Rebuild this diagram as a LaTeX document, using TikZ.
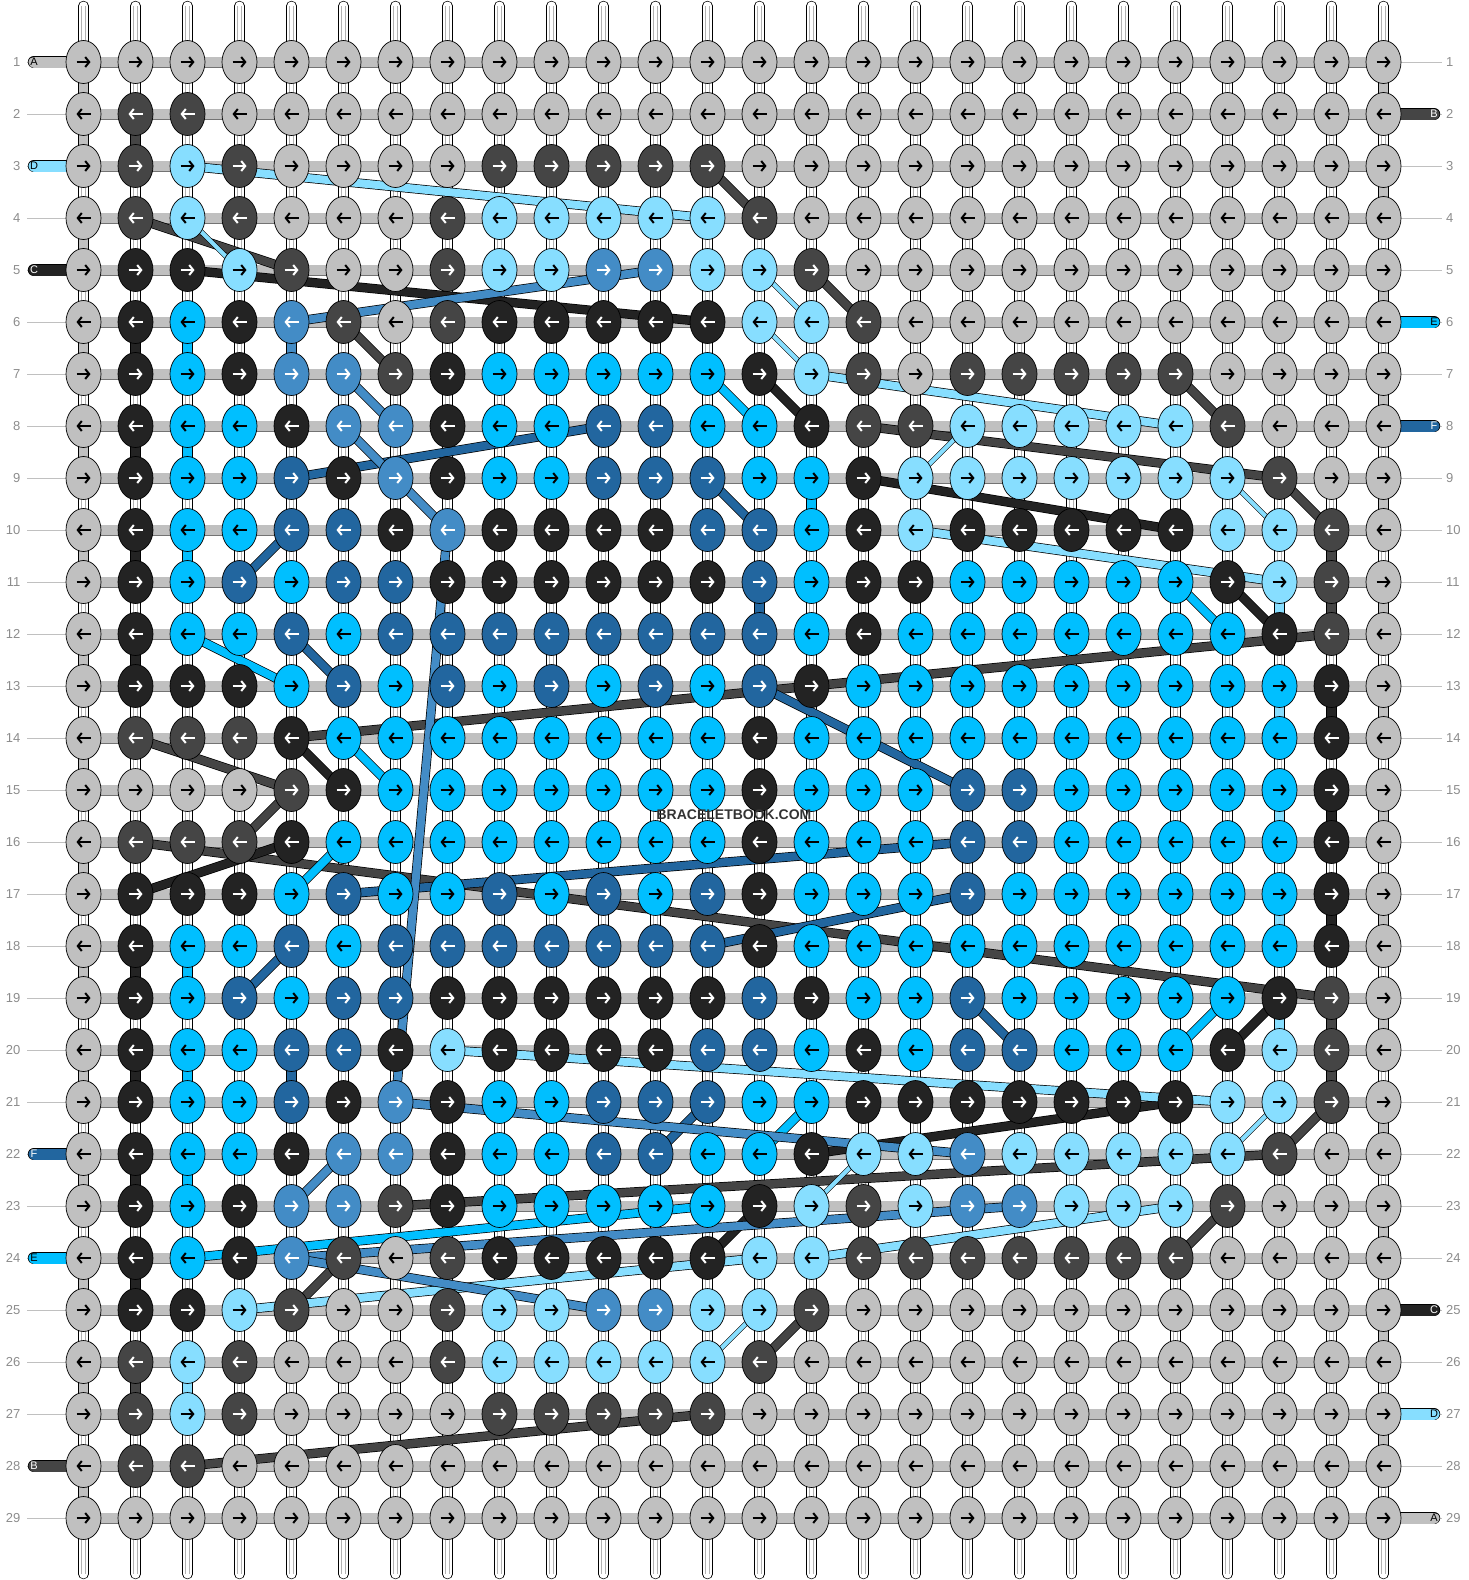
\documentclass[tikz,border=0pt]{standalone}
\usepackage{fontspec}
\setmainfont{Liberation Sans}
\usetikzlibrary{shapes.geometric,arrows.meta}
\pgfdeclarelayer{strands}
\pgfdeclarelayer{threads}
\pgfsetlayers{strands,threads,main}

% knot colours
\definecolor{ka}{HTML}{C0C0C0}
\definecolor{kb}{HTML}{454545}
\definecolor{kc}{HTML}{232323}
\definecolor{kd}{HTML}{87DEFF}
\definecolor{ke}{HTML}{00BFFF}
\definecolor{kf}{HTML}{22669F}
\definecolor{kg}{HTML}{438CC6}
% arrow colours
\colorlet{ta}{black}
\colorlet{tb}{white}
\colorlet{tc}{white}
\colorlet{td}{black}
\colorlet{te}{black}
\colorlet{tf}{white}
\colorlet{tg}{white}

\tikzset{
  knot/.style={ellipse, draw=black, line width=0.7pt, minimum width=35pt, minimum height=43pt, inner sep=0pt},
  dirarrow/.style={line width=2pt, -{Straight Barb[length=4pt,width=10pt]}},
  thread/.style={draw=black, line width=0.7pt, double=#1, double distance=8pt},
  thinthread/.style={draw=black, line width=0.6pt, double=#1, double distance=4pt},
  carry/.style={line width=9pt, draw=#1},
  hbar/.style={draw=black!55, line width=0.5pt, double=ka, double distance=10pt},
  vstrand/.style={draw=black, line width=0.7pt, double=white, double distance=9pt, line cap=round},
  tailout/.style={line width=12.4pt, draw=black, line cap=round},
  tailin/.style={line width=11pt, draw=#1, line cap=round},
  numline/.style={draw=ka, line width=0.8pt},
  rowno/.style={text=black!45, inner sep=0pt, font=\fontsize{13}{13}\selectfont},
  taglabel/.style={inner sep=0pt, font=\fontsize{11}{11}\selectfont}
}

\begin{document}
\begin{tikzpicture}[x=1pt,y=-1pt]
\useasboundingbox (0,0) rectangle (1468,1580);

% knots, row by row
\foreach \row [count=\ri] in {
  {a,a,a,a,a,a,a,a,a,a,a,a,a,a,a,a,a,a,a,a,a,a,a,a,a,a},
  {a,b,b,a,a,a,a,a,a,a,a,a,a,a,a,a,a,a,a,a,a,a,a,a,a,a},
  {a,b,d,b,a,a,a,a,b,b,b,b,b,a,a,a,a,a,a,a,a,a,a,a,a,a},
  {a,b,d,b,a,a,a,b,d,d,d,d,d,b,a,a,a,a,a,a,a,a,a,a,a,a},
  {a,c,c,d,b,a,a,b,d,d,g,g,d,d,b,a,a,a,a,a,a,a,a,a,a,a},
  {a,c,e,c,g,b,a,b,c,c,c,c,c,d,d,b,a,a,a,a,a,a,a,a,a,a},
  {a,c,e,c,g,g,b,c,e,e,e,e,e,c,d,b,a,b,b,b,b,b,a,a,a,a},
  {a,c,e,e,c,g,g,c,e,e,f,f,e,e,c,b,b,d,d,d,d,d,b,a,a,a},
  {a,c,e,e,f,c,g,c,e,e,f,f,f,e,e,c,d,d,d,d,d,d,d,b,a,a},
  {a,c,e,e,f,f,c,g,c,c,c,c,f,f,e,c,d,c,c,c,c,c,d,d,b,a},
  {a,c,e,f,e,f,f,c,c,c,c,c,c,f,e,c,c,e,e,e,e,e,c,d,b,a},
  {a,c,e,e,f,e,f,f,f,f,f,f,f,f,e,c,e,e,e,e,e,e,e,c,b,a},
  {a,c,c,c,e,f,e,f,e,f,e,f,e,f,c,e,e,e,e,e,e,e,e,e,c,a},
  {a,b,b,b,c,e,e,e,e,e,e,e,e,c,e,e,e,e,e,e,e,e,e,e,c,a},
  {a,a,a,a,b,c,e,e,e,e,e,e,e,c,e,e,e,f,f,e,e,e,e,e,c,a},
  {a,b,b,b,c,e,e,e,e,e,e,e,e,c,e,e,e,f,f,e,e,e,e,e,c,a},
  {a,c,c,c,e,f,e,e,f,e,f,e,f,c,e,e,e,f,e,e,e,e,e,e,c,a},
  {a,c,e,e,f,e,f,f,f,f,f,f,f,c,e,e,e,e,e,e,e,e,e,e,c,a},
  {a,c,e,f,e,f,f,c,c,c,c,c,c,f,c,e,e,f,e,e,e,e,e,c,b,a},
  {a,c,e,e,f,f,c,d,c,c,c,c,f,f,e,c,e,f,f,e,e,e,c,d,b,a},
  {a,c,e,e,f,c,g,c,e,e,f,f,f,e,e,c,c,c,c,c,c,c,d,d,b,a},
  {a,c,e,e,c,g,g,c,e,e,f,f,e,e,c,d,d,g,d,d,d,d,d,b,a,a},
  {a,c,e,c,g,g,b,c,e,e,e,e,e,c,d,b,d,g,g,d,d,d,b,a,a,a},
  {a,c,e,c,g,b,a,b,c,c,c,c,c,d,d,b,b,b,b,b,b,b,a,a,a,a},
  {a,c,c,d,b,a,a,b,d,d,g,g,d,d,b,a,a,a,a,a,a,a,a,a,a,a},
  {a,b,d,b,a,a,a,b,d,d,d,d,d,b,a,a,a,a,a,a,a,a,a,a,a,a},
  {a,b,d,b,a,a,a,a,b,b,b,b,b,a,a,a,a,a,a,a,a,a,a,a,a,a},
  {a,b,b,a,a,a,a,a,a,a,a,a,a,a,a,a,a,a,a,a,a,a,a,a,a,a},
  {a,a,a,a,a,a,a,a,a,a,a,a,a,a,a,a,a,a,a,a,a,a,a,a,a,a}}{
  \foreach \k [count=\ci] in \row {
    \pgfmathsetmacro\x{83.5+52*(\ci-1)}
    \pgfmathsetmacro\y{62+52*(\ri-1)}
    \ifodd\ri \def\da{-7}\def\db{7}\else\def\da{7}\def\db{-7}\fi
    \node[knot, fill=k\k] (k-\ri-\ci) at (\x,\y) {};
    \draw[dirarrow, draw=t\k] ([xshift=\da pt]k-\ri-\ci.center) -- ([xshift=\db pt]k-\ri-\ci.center);
  }
}

\node[text=black!80, font=\fontsize{14}{14}\selectfont\bfseries] (wm) at (734,815) {BRACELETBOOK.COM};

\begin{pgfonlayer}{strands}
  % vertical strings
  \foreach \ci in {1,...,26} {
    \pgfmathsetmacro\x{83.5+52*(\ci-1)}
    \coordinate (top-\ci) at (\x,6);
    \coordinate (bot-\ci) at (\x,1574);
    \draw[vstrand] (top-\ci) -- (bot-\ci);
    \draw[black!30, line width=0.4pt] ([xshift=-2pt]top-\ci) -- ([xshift=-2pt]bot-\ci);
    \draw[black!30, line width=0.4pt] ([xshift=2pt]top-\ci) -- ([xshift=2pt]bot-\ci);
  }
  % carried threads between rows
  \foreach \ri in {1,2,4,6,...,28} \draw[carry=ka] (k-\ri-1.center) -- ++(0,52);
  \foreach \ri in {1,3,...,27} \draw[carry=ka] (k-\ri-26.center) -- ++(0,52);
  \foreach \ri/\ci/\col in {2/2/b,6/2/c,8/2/c,10/2/c,12/2/c,18/2/c,20/2/c,22/2/c,24/2/c,26/2/b,
      6/3/e,8/3/e,10/3/e,18/3/e,20/3/e,22/3/e,26/3/d,6/5/g,20/5/f,11/14/f,9/15/e,
      11/24/d,13/24/d,15/24/d,17/24/d,19/24/d,10/25/b,11/25/b,13/25/c,15/25/c,17/25/c,19/25/b,20/25/b}
    \draw[carry=k\col] (k-\ri-\ci.center) -- ++(0,52);
  % row strands and numbers
  \foreach \ri in {1,...,29} {
    \pgfmathsetmacro\y{62+52*(\ri-1)}
    \draw[hbar] (k-\ri-1.center) -- (k-\ri-26.center);
    \node[rowno, anchor=east] (nl-\ri) at (20.5,\y) {\ri};
    \node[rowno, anchor=west] (nr-\ri) at (1446,\y) {\ri};
    \draw[numline] (27,\y) -- (k-\ri-1.center);
    \draw[numline] (k-\ri-26.center) -- (1442,\y);
  }
  % loose ends
  \foreach \ri/\col/\lab in {1/a/A,3/d/D,5/c/C,22/f/F,24/e/E,28/b/B} {
    \pgfmathsetmacro\y{62+52*(\ri-1)}
    \coordinate (tl-\ri) at (34,\y);
    \draw[tailout] (tl-\ri) -- (k-\ri-1.center);
    \draw[tailin=k\col] (tl-\ri) -- (k-\ri-1.center);
    \node[taglabel, text=t\col] (lab-l-\ri) at (tl-\ri) {\lab};
  }
  \foreach \ri/\col/\lab in {2/b/B,6/e/E,8/f/F,25/c/C,27/d/D,29/a/A} {
    \pgfmathsetmacro\y{62+52*(\ri-1)}
    \coordinate (tr-\ri) at (1434,\y);
    \draw[tailout] (k-\ri-26.center) -- (tr-\ri);
    \draw[tailin=k\col] (k-\ri-26.center) -- (tr-\ri);
    \node[taglabel, text=t\col] (lab-r-\ri) at (tr-\ri) {\lab};
  }
\end{pgfonlayer}

\begin{pgfonlayer}{threads}
  \foreach \p/\q/\col in {4-2/5-5/b, 3-13/4-14/b, 5-15/6-16/b, 6-6/7-7/b, 7-22/8-23/b, 9-24/10-25/b,
      8-16/9-24/b, 14-5/12-25/b, 14-2/15-5/b, 16-4/15-5/b, 16-2/19-25/b, 25-5/24-6/b, 28-3/27-13/b,
      23-7/22-24/b, 26-14/25-15/b, 22-24/21-25/b, 24-22/23-23/b,
      5-3/6-13/c, 7-14/8-15/c, 9-16/10-22/c, 11-23/12-24/c, 14-5/15-6/c, 17-2/16-5/c, 19-24/20-23/c,
      22-15/21-22/c, 24-13/23-14/c,
      3-3/4-13/d, 7-15/8-22/d, 10-17/11-24/d, 20-8/21-23/d, 25-4/24-14/d, 24-15/23-22/d,
      7-13/8-14/e, 11-22/12-23/e, 12-3/13-5/e, 14-6/15-7/e, 17-5/16-6/e, 19-23/20-22/e, 22-14/21-15/e,
      24-3/23-13/e,
      9-5/8-11/f, 9-13/10-14/f, 11-4/10-5/f, 12-5/13-6/f, 17-6/16-18/f, 18-13/17-18/f, 13-14/15-18/f,
      19-4/18-5/f, 19-18/20-19/f, 22-12/21-13/f,
      6-5/5-12/g, 7-6/8-7/g, 8-6/9-7/g, 9-7/10-8/g, 10-8/21-7/g, 21-7/22-18/g, 23-5/22-6/g,
      24-5/23-19/g, 24-5/25-11/g}
    \draw[thread=k\col] (k-\p.center) -- (k-\q.center);
  \foreach \p/\q in {4-3/5-4, 5-14/6-15, 6-14/7-15, 9-17/8-18, 9-23/10-24, 23-15/22-16, 26-13/25-14, 22-23/21-24}
    \draw[thinthread=kd] (k-\p.center) -- (k-\q.center);
\end{pgfonlayer}
\end{tikzpicture}
\end{document}
